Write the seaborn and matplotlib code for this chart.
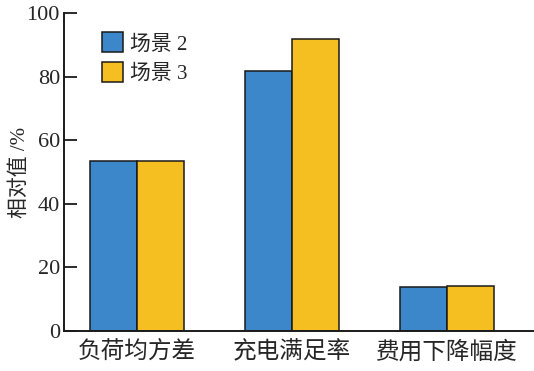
import pandas as pd
import seaborn as sns
import matplotlib.pyplot as plt

# data
categories = ["负荷均方差", "充电满足率", "费用下降幅度"]
scenarios = ["场景 2", "场景 3"]
scene2_values = [53.6, 81.8, 13.7]
scene3_values = [53.6, 91.8, 14.2]

colors = ["#3b87c9", "#f5bf22"]

sns.set_theme(style="white")
plt.rcParams["font.family"] = ["Liberation Serif", "Noto Sans CJK SC"]

df = pd.DataFrame({
    "category": categories * 2,
    "scenario": [scenarios[0]] * 3 + [scenarios[1]] * 3,
    "value": scene2_values + scene3_values,
})

fig = plt.figure(figsize=(5.34, 3.71), dpi=100)
ax = fig.add_axes([0.12, 0.108, 0.878, 0.857])

sns.barplot(data=df, x="category", y="value", hue="scenario",
            palette=colors, width=0.61, gap=0, edgecolor="#1a1a1a",
            linewidth=1.1, saturation=1, errorbar=None, ax=ax)

ax.set_ylim(0, 100)
ax.set_xlim(-0.47, 2.555)
ax.set_yticks(range(0, 101, 20))
ax.set_xlabel("")
ax.set_ylabel("相对值 /%", fontsize=15)
ax.yaxis.set_label_coords(-0.073, 0.5)

ax.tick_params(axis="y", direction="in", length=9, width=1.3, labelsize=16,
               color="#1a1a1a", pad=3, left=True)
ax.tick_params(axis="x", length=0, labelsize=17, pad=7)

for side in ["top", "right"]:
    ax.spines[side].set_visible(False)
for side in ["left", "bottom"]:
    ax.spines[side].set_color("#1a1a1a")
    ax.spines[side].set_linewidth(1.4)

ax.legend(loc="upper left", bbox_to_anchor=(0.063, 0.965), frameon=False,
          fontsize=15, handlelength=1.0, handleheight=1.1,
          handletextpad=0.35, labelspacing=0.35, borderaxespad=0)

fig.savefig("out.png", dpi=100)
